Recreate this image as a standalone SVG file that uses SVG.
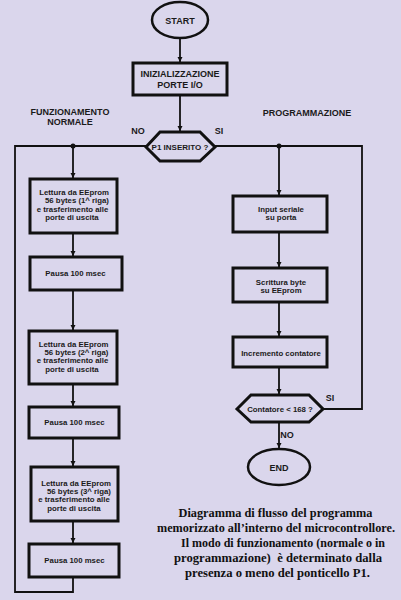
<svg xmlns="http://www.w3.org/2000/svg" width="401" height="600" viewBox="0 0 401 600">
<defs>
<style>
.bg{fill:#dad6ec}
.box{fill:#dad6ec;stroke:#111;stroke-width:3}
.term{fill:#dad6ec;stroke:#111;stroke-width:2.5}
.ln{fill:none;stroke:#111;stroke-width:1.8}
.t{font-family:"Liberation Sans",Arial,sans-serif;font-weight:bold;fill:#1a1a1a;text-anchor:middle}
.s7{font-size:7.8px}
.s8{font-size:8px}
.s9{font-size:9px}
.cap{font-family:"Liberation Serif","Times New Roman",serif;font-weight:bold;font-size:12.5px;fill:#111;text-anchor:middle}
</style>
<marker id="ah" viewBox="0 0 10 10" refX="10" refY="5" markerWidth="5" markerHeight="6" markerUnits="userSpaceOnUse" orient="auto">
<path d="M0,0 L10,5 L0,10 Z" fill="#111"/>
</marker>
</defs>
<rect class="bg" x="0" y="0" width="401" height="600"/>

<g id="connectors">
<line class="ln" x1="180" y1="38" x2="180" y2="62" marker-end="url(#ah)"/>
<line class="ln" x1="180" y1="96" x2="180" y2="131" marker-end="url(#ah)"/>
<polyline class="ln" points="146,146 15,146 15,592 73,592 73,578"/>
<line class="ln" x1="73" y1="146" x2="73" y2="178" marker-end="url(#ah)"/>
<line class="ln" x1="73" y1="234" x2="73" y2="256" marker-end="url(#ah)"/>
<line class="ln" x1="73" y1="291" x2="73" y2="330" marker-end="url(#ah)"/>
<line class="ln" x1="73" y1="385" x2="73" y2="406" marker-end="url(#ah)"/>
<line class="ln" x1="73" y1="439" x2="73" y2="466" marker-end="url(#ah)"/>
<line class="ln" x1="73" y1="522" x2="73" y2="543" marker-end="url(#ah)"/>
<polyline class="ln" points="215,146 362,146 362,409 323,409"/>
<line class="ln" x1="279" y1="146" x2="279" y2="195" marker-end="url(#ah)"/>
<line class="ln" x1="279" y1="233" x2="279" y2="267" marker-end="url(#ah)"/>
<line class="ln" x1="279" y1="303" x2="279" y2="336" marker-end="url(#ah)"/>
<line class="ln" x1="279" y1="368" x2="279" y2="394" marker-end="url(#ah)"/>
<line class="ln" x1="279" y1="423" x2="279" y2="448" marker-end="url(#ah)"/>
<circle cx="73" cy="146" r="2.5" fill="#111"/>
<circle cx="279" cy="146" r="2.5" fill="#111"/>
</g>

<g id="start">
<ellipse class="term" cx="180" cy="20" rx="28" ry="18"/>
<text class="t s9" x="180" y="23.5">START</text>
</g>
<g id="init">
<rect class="box" x="133" y="63" width="94" height="32"/>
<text class="t s9" x="180" y="77">INIZIALIZZAZIONE</text>
<text class="t s9" x="180" y="87.5">PORTE I/O</text>
</g>
<g id="p1">
<polygon class="box" points="146,147 160,132 200,132 215,147 200,161 160,161"/>
<text class="t s8" x="180" y="150">P1 INSERITO ?</text>
</g>

<g id="labels">
<text class="t s9" x="70" y="115">FUNZIONAMENTO</text>
<text class="t s9" x="70" y="124.5">NORMALE</text>
<text class="t s9" x="307" y="116">PROGRAMMAZIONE</text>
<text class="t s9" x="138" y="134">NO</text>
<text class="t s9" x="219" y="134">SI</text>
<text class="t s9" x="330" y="401">SI</text>
<text class="t s9" x="287" y="438">NO</text>
</g>

<g id="read1">
<rect class="box" x="30" y="179" width="87" height="54"/>
<text class="t s7" x="74" y="195">Lettura da EEprom</text>
<text class="t s7" x="77" y="203.3">56 bytes (1^ riga)</text>
<text class="t s7" x="72.5" y="211.6">e trasferimento alle</text>
<text class="t s7" x="72" y="220">porte di uscita</text>
</g>
<g id="pausa1">
<rect class="box" x="30" y="257" width="92" height="33"/>
<text class="t s7" x="75.5" y="276">Pausa 100 msec</text>
</g>
<g id="read2">
<rect class="box" x="29" y="331" width="88" height="53"/>
<text class="t s7" x="73.5" y="346.5">Lettura da EEprom</text>
<text class="t s7" x="76.5" y="354.8">56 bytes (2^ riga)</text>
<text class="t s7" x="72.5" y="363.1">e trasferimento alle</text>
<text class="t s7" x="72" y="371.5">porte di uscita</text>
</g>
<g id="pausa2">
<rect class="box" x="29" y="407" width="90" height="31"/>
<text class="t s7" x="74.5" y="425">Pausa 100 msec</text>
</g>
<g id="read3">
<rect class="box" x="31" y="467" width="87" height="54"/>
<text class="t s7" x="76" y="485.5">Lettura da EEprom</text>
<text class="t s7" x="79" y="493.8">56 bytes (3^ riga)</text>
<text class="t s7" x="74" y="502.1">e trasferimento alle</text>
<text class="t s7" x="74" y="510.5">porte di uscita</text>
</g>
<g id="pausa3">
<rect class="box" x="29" y="544" width="90" height="33"/>
<text class="t s7" x="74.5" y="563">Pausa 100 msec</text>
</g>

<g id="input">
<rect class="box" x="233" y="196" width="94" height="36"/>
<text class="t s7" x="281" y="212">Input seriale</text>
<text class="t s7" x="281" y="220">su porta</text>
</g>
<g id="scrittura">
<rect class="box" x="233" y="268" width="94" height="34"/>
<text class="t s7" x="281" y="285">Scrittura byte</text>
<text class="t s7" x="281" y="293">su EEprom</text>
</g>
<g id="incremento">
<rect class="box" x="233" y="337" width="94" height="30"/>
<text class="t s7" x="281" y="355.5">Incremento contatore</text>
</g>
<g id="contatore">
<polygon class="box" points="237,409 251,395 309,395 323,409 309,422 251,422"/>
<text class="t s7" x="280" y="412">Contatore &lt; 168 ?</text>
</g>
<g id="end">
<ellipse class="term" cx="279" cy="467" rx="31" ry="18"/>
<text class="t s9" x="279" y="470.5">END</text>
</g>

<g id="caption">
<text class="cap" x="275.5" y="517" textLength="194" lengthAdjust="spacingAndGlyphs">Diagramma di flusso del programma</text>
<text class="cap" x="276" y="532" textLength="238" lengthAdjust="spacingAndGlyphs">memorizzato all’interno del microcontrollore.</text>
<text class="cap" x="283" y="547" textLength="204" lengthAdjust="spacingAndGlyphs">Il modo di funzionamento (normale o in</text>
<text class="cap" x="278" y="562" textLength="208" lengthAdjust="spacingAndGlyphs" xml:space="preserve">programmazione)  è determinato dalla</text>
<text class="cap" x="277.5" y="577" textLength="185" lengthAdjust="spacingAndGlyphs">presenza o meno del ponticello P1.</text>
</g>
</svg>
